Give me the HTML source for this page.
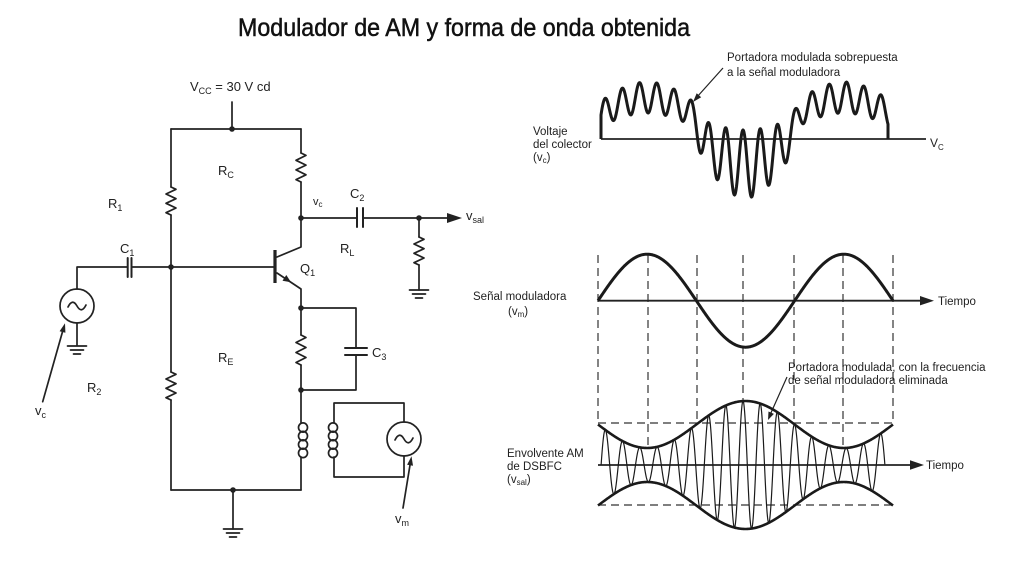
<!DOCTYPE html>
<html>
<head>
<meta charset="utf-8">
<style>
html,body{margin:0;padding:0;background:#fff;}
svg{display:block;}
text{font-family:"Liberation Sans",Arial,sans-serif;fill:#222;}
</style>
</head>
<body>
<svg id="s" width="1024" height="576" viewBox="0 0 1024 576" xmlns="http://www.w3.org/2000/svg">
<rect width="1024" height="576" fill="#fff"/>

<!-- Title -->
<text x="238" y="36" font-size="25" textLength="452" lengthAdjust="spacingAndGlyphs" style="fill:#111;stroke:#111;stroke-width:0.5">Modulador de AM y forma de onda obtenida</text>

<!-- ================= CIRCUIT ================= -->
<g fill="none" stroke="#222" stroke-width="1.7" stroke-linejoin="round" stroke-linecap="round">
  <!-- VCC stub and top rail -->
  <path d="M232 102 V129 M171 129 H301"/>
  <!-- left divider -->
  <path d="M171 129 V187 M171 215 V372 M171 400 V490"/>
  <polyline points="171,187 176,189.3 166,194 176,198.7 166,203.3 176,208 166,212.7 171,215"/>
  <polyline points="171,372 176,374.3 166,379 176,383.7 166,388.3 176,393 166,397.7 171,400"/>
  <!-- collector branch -->
  <path d="M301 129 V153 M301 182 V247 L277 257"/>
  <polyline points="301,153 306,155.4 296,160.3 306,165.1 296,169.9 306,174.8 296,179.6 301,182"/>
  <!-- emitter branch -->
  <path d="M277 273 L301 289 V335 M301 365 V423 M301 457 V490"/>
  <polyline points="301,335 306,337.5 296,342.5 306,347.5 296,352.5 306,357.5 296,362.5 301,365"/>
  <!-- bypass cap C3 -->
  <path d="M301 308 H356 V348 M356 355 V390 H301"/>
  <path d="M345 348 H367 M345 355 H367" stroke-width="2"/>
  <!-- bottom rail and ground -->
  <path d="M171 490 H301 M233 490 V529"/>
  <path d="M223.5 529 H242.5 M226.5 533 H239.5 M229.5 537 H236.5"/>
  <!-- output -->
  <path d="M301 218 H357 M363 218 H447"/>
  <path d="M357 208 V227 M363 208 V227" stroke-width="2"/>
  <path d="M419 218 V237 M419 265 V290"/>
  <polyline points="419,237 424,239.3 414,244 424,248.7 414,253.3 424,258 414,262.7 419,265"/>
  <path d="M409.5 290 H428.5 M412.5 294 H425.5 M415.5 298 H422.5"/>
  <!-- base input -->
  <path d="M77 289 V267 H127.7 M131.5 267 H275"/>
  <path d="M127.7 258 V277 M131.5 258 V277" stroke-width="2"/>
  <!-- vc source -->
  <circle cx="77" cy="306" r="17"/>
  <path d="M68 307 Q72.5 298 77 306 T86 305"/>
  <path d="M77 323 V346 M67.5 346 H86.5 M70.5 350 H83.5 M73.5 354 H80.5"/>
  <path d="M42.7 401.7 L63 330"/>
  <!-- primary coil -->
  <ellipse cx="303" cy="427.5" rx="4.5" ry="4.6"/>
  <ellipse cx="303" cy="436" rx="4.5" ry="4.6"/>
  <ellipse cx="303" cy="444.5" rx="4.5" ry="4.6"/>
  <ellipse cx="303" cy="453" rx="4.5" ry="4.6"/>
  <!-- secondary coil -->
  <ellipse cx="333" cy="427.5" rx="4.5" ry="4.6"/>
  <ellipse cx="333" cy="436" rx="4.5" ry="4.6"/>
  <ellipse cx="333" cy="444.5" rx="4.5" ry="4.6"/>
  <ellipse cx="333" cy="453" rx="4.5" ry="4.6"/>
  <path d="M334 423 V403 H404 V422 M404 456 V477 H334 V457"/>
  <circle cx="404" cy="439" r="17"/>
  <path d="M395 440 Q399.5 431 404 439 T413 438"/>
  <path d="M403 508 L410.5 462"/>
</g>
<!-- transistor base bar -->
<path d="M275 250 V283" stroke="#222" stroke-width="3.2"/>
<g fill="#222" stroke="none">
  <polygon points="291,282.3 282.5,280.8 286.3,275"/>
  <polygon points="462,218 447,213 447,223"/>
  <polygon points="65,323.3 65.4,332.8 59.6,331.2"/>
  <polygon points="411.5,456.3 413,465.7 407.1,464.7"/>
  <circle cx="232" cy="129" r="2.8"/>
  <circle cx="301" cy="218" r="2.8"/>
  <circle cx="419" cy="218" r="2.8"/>
  <circle cx="171" cy="267" r="2.8"/>
  <circle cx="301" cy="308" r="2.8"/>
  <circle cx="301" cy="390" r="2.8"/>
  <circle cx="233" cy="490" r="2.8"/>
</g>

<!-- circuit labels -->
<g font-size="13">
  <text x="190" y="91">V<tspan font-size="9" dy="3">CC</tspan><tspan dy="-3"> = 30 V cd</tspan></text>
  <text x="218" y="175">R<tspan font-size="9" dy="3">C</tspan></text>
  <text x="108" y="208">R<tspan font-size="9" dy="3">1</tspan></text>
  <text x="313" y="205" font-size="11">v<tspan font-size="8" dy="2">c</tspan></text>
  <text x="350" y="198">C<tspan font-size="9" dy="3">2</tspan></text>
  <text x="466" y="220">v<tspan font-size="9" dy="3">sal</tspan></text>
  <text x="340" y="253">R<tspan font-size="9" dy="3">L</tspan></text>
  <text x="120" y="253">C<tspan font-size="9" dy="3">1</tspan></text>
  <text x="300" y="273">Q<tspan font-size="9" dy="3">1</tspan></text>
  <text x="218" y="362">R<tspan font-size="9" dy="3">E</tspan></text>
  <text x="372" y="357">C<tspan font-size="9" dy="3">3</tspan></text>
  <text x="87" y="392">R<tspan font-size="9" dy="3">2</tspan></text>
  <text x="35" y="415">v<tspan font-size="9" dy="3">c</tspan></text>
  <text x="395" y="523">v<tspan font-size="9" dy="3">m</tspan></text>
</g>

<!-- ================= WAVEFORMS ================= -->
<!-- top panel -->
<path d="M601 139 H926" stroke="#222" stroke-width="1.8" fill="none"/>
<path id="wTop" d="" stroke="#1a1a1a" stroke-width="3" fill="none" stroke-linejoin="round"/>
<path d="M723 68 L697 97" stroke="#222" stroke-width="1.2" fill="none"/>
<polygon points="693,102 701.2,97.2 696.7,93.2" fill="#222"/>

<g font-size="11.5">
  <text x="727" y="61">Portadora modulada sobrepuesta</text>
  <text x="727" y="76">a la señal moduladora</text>
  <text x="533" y="135">Voltaje</text>
  <text x="533" y="148">del colector</text>
  <text x="533" y="161">(v<tspan font-size="8" dy="2">c</tspan><tspan dy="-2">)</tspan></text>
  <text x="930" y="147" font-size="12">V<tspan font-size="8" dy="3">C</tspan></text>
</g>

<!-- dashed guides -->
<g stroke="#333" stroke-width="1.2" stroke-dasharray="8 5" fill="none">
  <path d="M598 255 V423"/>
  <path d="M648 255 V448"/>
  <path d="M697 255 V424"/>
  <path d="M743 255 V401"/>
  <path d="M794 255 V424"/>
  <path d="M843 255 V448"/>
  <path d="M893 255 V423"/>
  <path d="M598 423 H893"/>
  <path d="M598 505 H893"/>
</g>

<!-- middle panel -->
<path d="M598 300.7 H922" stroke="#222" stroke-width="1.8" fill="none"/>
<polygon points="934,300.7 920,296 920,305.4" fill="#222"/>
<path id="wMod" d="" stroke="#1a1a1a" stroke-width="3" fill="none"/>
<g font-size="11.5">
  <text x="473" y="300">Señal moduladora</text>
  <text x="508" y="315">(v<tspan font-size="8" dy="2">m</tspan><tspan dy="-2">)</tspan></text>
  <text x="938" y="305">Tiempo</text>
  <text x="788" y="371">Portadora modulada, con la frecuencia</text>
  <text x="788" y="384">de señal moduladora eliminada</text>
</g>
<path d="M787 377 L770 415" stroke="#222" stroke-width="1.2" fill="none"/>
<polygon points="768,420 773.9,413.9 768.5,411.5" fill="#222"/>

<!-- envelope panel -->
<path d="M598 465 H912" stroke="#222" stroke-width="1.8" fill="none"/>
<polygon points="924,465 910,460.3 910,469.7" fill="#222"/>
<path id="wCar" d="" stroke="#1a1a1a" stroke-width="1.2" fill="none" stroke-linejoin="round"/>
<path id="wEnvU" d="" stroke="#1a1a1a" stroke-width="2.6" fill="none"/>
<path id="wEnvL" d="" stroke="#1a1a1a" stroke-width="2.6" fill="none"/>
<g font-size="11.5">
  <text x="507" y="457">Envolvente AM</text>
  <text x="507" y="470">de DSBFC</text>
  <text x="507" y="483">(v<tspan font-size="8" dy="2">sal</tspan><tspan dy="-2">)</tspan></text>
  <text x="926" y="469">Tiempo</text>
</g>
</svg>

<script>
(function(){
  function P(x){return Math.PI*(x-598)/98.333;}
  function build(f,x0,x1,step,prefix){
    var d=prefix||'';
    var first=!prefix;
    for(var x=x0;x<=x1+1e-9;x+=step){
      d+=(first?'M':'L')+x.toFixed(2)+' '+f(x).toFixed(2)+' ';
      first=false;
    }
    return d;
  }
  function top(x){
    var s=Math.sin(P(x));
    var c=Math.cos(2*Math.PI*(x-743)/17.25);
    var t=(1+Math.tanh(8*s))/2;
    var offA=24+17.5*s, hA=12.5+3*s;
    var offB=5+30*s, hB=16-18*s;
    var off=t*offA+(1-t)*offB, h=t*hA+(1-t)*hB;
    return 139-off-h*c;
  }
  var d=build(top,601,888,0.5,'M601 139 ');
  d+='L888 139';
  document.getElementById('wTop').setAttribute('d',d);
  document.getElementById('wMod').setAttribute('d',build(function(x){return 300.7-46.5*Math.sin(P(x));},598,893,0.5));
  function A(x){return 40.5-23.5*Math.sin(P(x));}
  document.getElementById('wEnvU').setAttribute('d',build(function(x){return 465-A(x);},598,893,0.5));
  document.getElementById('wEnvL').setAttribute('d',build(function(x){return 465+A(x);},598,893,0.5));
  document.getElementById('wCar').setAttribute('d',build(function(x){return 465-A(x)*Math.cos(2*Math.PI*(x-743)/17.2);},601.1,884.9,0.25));
})();
</script>
</body>
</html>
